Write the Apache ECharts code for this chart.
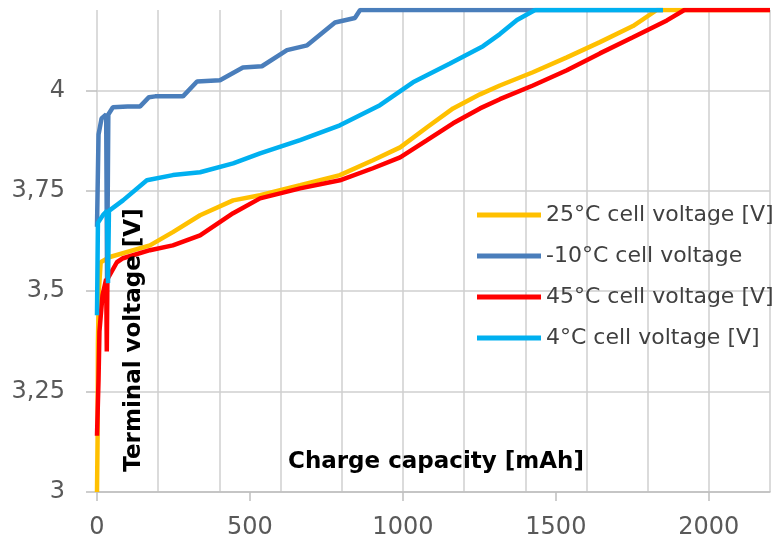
<!DOCTYPE html>
<html>
<head>
<meta charset="utf-8">
<title>Charge curves</title>
<script src="https://cdn.jsdelivr.net/npm/echarts@6/dist/echarts.min.js"></script>
<style>
    html, body { margin: 0; padding: 0; background: #ffffff; }
    #myChart { width: 774px; height: 546px; }
</style>
</head>
<body>
<div id="myChart"></div>
<script>
// series names (legend order)
let names = ['25°C cell voltage [V]', '-10°C cell voltage', '45°C cell voltage [V]', '4°C cell voltage [V]']
let colors = ['#FFC000', '#4A7EBB', '#FF0000', '#00B0F0']

// axis ticks
let xTicks = [0, 500, 1000, 1500, 2000]
let yTicks = [3, 3.25, 3.5, 3.75, 4]

// 25°C
let cap25 = [0, 2, 3, 6, 12, 42, 173, 248, 337, 445, 533, 664, 794, 902, 991, 1079, 1164, 1252, 1317, 1425, 1536, 1644, 1752, 1830, 2200]
let volt25 = [3.0, 3.14, 3.37, 3.5, 3.572, 3.585, 3.614, 3.647, 3.689, 3.726, 3.739, 3.764, 3.789, 3.826, 3.858, 3.908, 3.955, 3.99, 4.012, 4.045, 4.082, 4.12, 4.16, 4.2, 4.2]

// -10°C
let capM10 = [0, 5, 15, 30, 33, 37, 52, 100, 141, 170, 190, 281, 327, 402, 477, 539, 621, 687, 778, 843, 860, 1850]
let voltM10 = [3.66, 3.89, 3.93, 3.94, 3.52, 3.94, 3.958, 3.96, 3.96, 3.983, 3.985, 3.985, 4.022, 4.025, 4.057, 4.06, 4.1, 4.112, 4.169, 4.18, 4.2, 4.2]

// 45°C
let cap45 = [0, 5, 8, 18, 30, 32, 34, 65, 85, 173, 248, 337, 445, 533, 664, 794, 902, 991, 1079, 1164, 1252, 1317, 1425, 1536, 1644, 1752, 1863, 1920, 2200]
let volt45 = [3.14, 3.28, 3.4, 3.49, 3.53, 3.35, 3.53, 3.572, 3.582, 3.602, 3.614, 3.639, 3.694, 3.731, 3.756, 3.776, 3.806, 3.833, 3.876, 3.918, 3.955, 3.978, 4.012, 4.05, 4.092, 4.132, 4.174, 4.2, 4.2]

// 4°C
let cap4 = [0, 3, 20, 33, 36, 39, 85, 163, 248, 337, 445, 533, 664, 794, 925, 1033, 1154, 1262, 1317, 1373, 1432, 1850]
let volt4 = [3.44, 3.67, 3.69, 3.7, 3.52, 3.7, 3.726, 3.776, 3.789, 3.796, 3.818, 3.843, 3.876, 3.913, 3.963, 4.02, 4.067, 4.11, 4.14, 4.175, 4.2, 4.2]

function pairs(xs, ys) {
    return xs.map((x, i) => [x, ys[i]])
}

let seriesData = [pairs(cap25, volt25), pairs(capM10, voltM10), pairs(cap45, volt45), pairs(cap4, volt4)]

let font = 'DejaVu Sans'
let gridColor = '#cfcfcf'

let option = {
    animation: false,
    backgroundColor: '#ffffff',
    grid: { left: 97, right: 4, top: 10, bottom: 54 },
    legend: {
        orient: 'vertical',
        left: 477,
        top: 203,
        padding: 0,
        icon: 'rect',
        itemWidth: 64,
        itemHeight: 5,
        itemGap: 17,
        textStyle: { fontFamily: font, fontSize: 22, color: '#404040', lineHeight: 24 },
        data: names
    },
    xAxis: [
        {
            type: 'value', min: 0, max: 2200, interval: 500,
            axisLine: { show: true, lineStyle: { color: '#bfbfbf', width: 1.5 } },
            axisTick: { show: true, length: 9, customValues: xTicks, lineStyle: { color: '#bfbfbf', width: 1.5 } },
            axisLabel: { customValues: xTicks, margin: 24, fontFamily: font, fontSize: 24, color: '#595959', formatter: v => String(v) },
            splitLine: { show: false }
        },
        {
            // only the vertical grid, every 200 mAh
            type: 'value', min: 0, max: 2200, interval: 200,
            axisLine: { show: false }, axisTick: { show: false }, axisLabel: { show: false },
            splitLine: { show: true, lineStyle: { color: gridColor, width: 1.5 } }
        }
    ],
    yAxis: {
        type: 'value', min: 3, max: 4.2, interval: 0.25,
        axisLine: { show: false },
        axisTick: { show: true, inside: false, length: 11, customValues: yTicks, lineStyle: { color: '#bfbfbf', width: 1.5 } },
        axisLabel: {
            customValues: yTicks, margin: 32, fontFamily: font, fontSize: 24, color: '#595959',
            formatter: v => String(v).replace('.', ',')
        },
        splitLine: { show: true, lineStyle: { color: gridColor, width: 1.5 } }
    },
    graphic: [
        {
            type: 'text', left: 288, top: 451, z: 10,
            style: { text: 'Charge capacity [mAh]', font: 'bold 23px "DejaVu Sans"', fill: '#000000' }
        },
        {
            type: 'text', x: 134, y: 340, rotation: Math.PI / 2, z: 10,
            style: { text: 'Terminal voltage [V]', font: 'bold 23px "DejaVu Sans"', fill: '#000000', align: 'center', verticalAlign: 'middle' }
        }
    ],
    series: names.map((n, i) => ({
        name: n,
        type: 'line',
        xAxisIndex: 0,
        data: seriesData[i],
        symbol: 'none',
        color: colors[i],
        itemStyle: { color: colors[i] },
        lineStyle: { color: colors[i], width: 4.5 },
        clip: true
    }))
}

let myChart = echarts.init(document.getElementById('myChart'))
myChart.setOption(option)
</script>
</body>
</html>
